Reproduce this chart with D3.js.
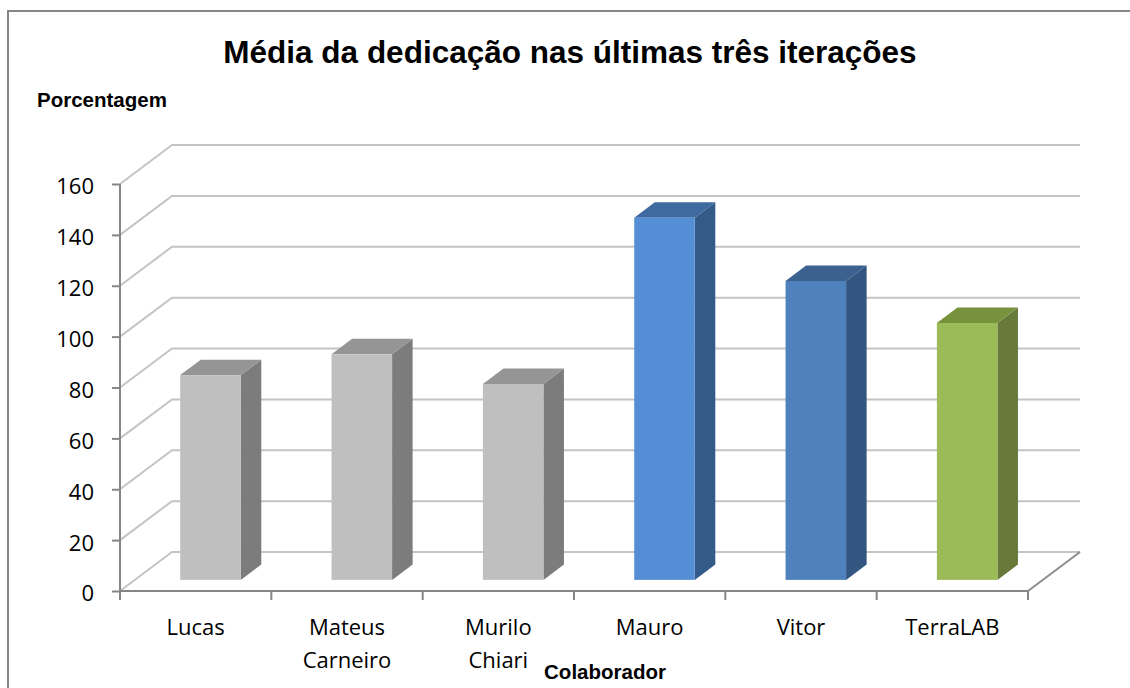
<!DOCTYPE html>
<html>
<head>
<meta charset="utf-8">
<script src="https://cdn.jsdelivr.net/npm/d3@7"></script>
<style>
  body { margin: 0; background: #fff; }
  svg { display: block; }
</style>
</head>
<body>
<svg id="chart" width="1130" height="688"></svg>
<script>
// dados
const colaboradores = ["Lucas", "Mateus\nCarneiro", "Murilo\nChiari", "Mauro", "Vitor", "TerraLAB"];
const dedicacao = [80.5, 88.7, 77, 142.4, 117.5, 101];
const yTicks = [0, 20, 40, 60, 80, 100, 120, 140, 160];
// cores: frente, topo, lado
const coresFrente = ["#bfbfbf", "#bfbfbf", "#bfbfbf", "#558ed5", "#4f81bd", "#9bbb59"];
const coresTopo = ["#959595", "#959595", "#959595", "#3e6a9f", "#3b6190", "#76923c"];
const coresLado = ["#7c7c7c", "#7c7c7c", "#7c7c7c", "#345a89", "#32567f", "#677a3a"];

const svg = d3.select("#chart");
const plotLeft = 120, plotRight = 1028, plotBase = 591, plotTop = 184;
const DX = 52, DY = -39;          // profundidade do "3D"
const barFront = 0.285, barDepth = 0.395;
const labelFont = "'Open Sans', Lato, sans-serif";
const titleFont = "'Liberation Sans', Arial, sans-serif";

const y = d3.scaleLinear().domain([0, 160]).range([plotBase, plotTop]);
const x = d3.scaleBand().domain(colaboradores).range([plotLeft, plotRight]).paddingInner(0);
const barW = x.bandwidth() * 0.4;

// borda externa
svg.append("rect")
    .attr("x", 8).attr("y", 11).attr("width", 1140).attr("height", 700)
    .attr("fill", "none").attr("stroke", "#868686").attr("stroke-width", 2);

// linhas de grade (parede lateral + fundo)
const grid = svg.append("g");
grid.selectAll("polyline")
    .data(yTicks)
    .enter()
    .append("polyline")
    .attr("points", d => [[plotLeft, y(d)], [plotLeft + DX, y(d) + DY], [plotRight + DX, y(d) + DY]].join(" "))
    .attr("fill", "none")
    .attr("stroke", "#c4c4c4")
    .attr("stroke-width", 2);

// borda direita do piso
svg.append("line")
    .attr("x1", plotRight).attr("y1", plotBase).attr("x2", plotRight + DX).attr("y2", plotBase + DY)
    .attr("stroke", "#8c8c8c").attr("stroke-width", 2);

// barras
const proj = (px, v, d) => [px + d * DX, y(v) + d * DY];
const bars = svg.append("g").selectAll("g")
    .data(dedicacao)
    .enter()
    .append("g");

bars.each(function (v, i) {
    const g = d3.select(this);
    const cx = x(colaboradores[i]) + x.bandwidth() / 2;
    const x0 = cx - barW / 2, x1 = cx + barW / 2;
    const f = barFront, b = barFront + barDepth;
    const poly = pts => pts.map(p => p.join(",")).join(" ");
    // lado
    g.append("polygon")
        .attr("points", poly([proj(x1, 0, f), proj(x1, v, f), proj(x1, v, b), proj(x1, 0, b)]))
        .attr("fill", coresLado[i]);
    // topo
    g.append("polygon")
        .attr("points", poly([proj(x0, v, f), proj(x1, v, f), proj(x1, v, b), proj(x0, v, b)]))
        .attr("fill", coresTopo[i]);
    // frente
    const p0 = proj(x0, v, f), p1 = proj(x1, 0, f);
    g.append("rect")
        .attr("x", p0[0]).attr("y", p0[1])
        .attr("width", p1[0] - p0[0]).attr("height", p1[1] - p0[1])
        .attr("fill", coresFrente[i]);
});

// eixo y
const yAxis = svg.append("g")
    .attr("transform", `translate(${plotLeft},0)`)
    .call(d3.axisLeft(y).tickValues(yTicks).tickSize(8).tickPadding(18));
yAxis.select(".domain").attr("stroke", "#868686").attr("stroke-width", 2).attr("d", `M0,${plotTop}V${plotBase}`);
yAxis.selectAll(".tick line").attr("stroke", "#868686").attr("stroke-width", 2);
yAxis.selectAll(".tick text")
    .attr("fill", "#000")
    .attr("dy", "0.45em")
    .style("font-family", labelFont)
    .style("font-size", "22px");

// eixo x
const xAxis = svg.append("g")
    .attr("transform", `translate(0,${plotBase})`)
    .call(d3.axisBottom(x).tickSize(0).tickFormat(""));
xAxis.select(".domain").attr("stroke", "#868686").attr("stroke-width", 2).attr("d", `M${plotLeft},0H${plotRight}`);
xAxis.selectAll(".boundary")
    .data(d3.range(colaboradores.length + 1))
    .enter()
    .append("line")
    .attr("x1", i => plotLeft + i * x.bandwidth()).attr("x2", i => plotLeft + i * x.bandwidth())
    .attr("y1", 0).attr("y2", 9)
    .attr("stroke", "#868686").attr("stroke-width", 2);

const xLabels = svg.append("g").selectAll("text")
    .data(colaboradores)
    .enter()
    .append("text")
    .attr("text-anchor", "middle")
    .style("font-family", labelFont)
    .style("font-size", "22px")
    .attr("fill", "#000");
xLabels.each(function (d) {
    const t = d3.select(this);
    d.split("\n").forEach((line, k) => {
        t.append("tspan")
            .attr("x", x(d) + x.bandwidth() / 2)
            .attr("y", 635 + k * 33)
            .text(line);
    });
});

// títulos
svg.append("text")
    .attr("x", 570).attr("y", 63)
    .attr("text-anchor", "middle")
    .style("font-family", titleFont)
    .style("font-weight", "bold")
    .style("font-size", "31.5px")
    .text("Média da dedicação nas últimas três iterações");

svg.append("text")
    .attr("x", 37).attr("y", 107)
    .style("font-family", titleFont)
    .style("font-weight", "bold")
    .style("font-size", "20.5px")
    .text("Porcentagem");

svg.append("text")
    .attr("x", 605).attr("y", 679)
    .attr("text-anchor", "middle")
    .style("font-family", titleFont)
    .style("font-weight", "bold")
    .style("font-size", "20.5px")
    .text("Colaborador");
</script>
</body>
</html>
